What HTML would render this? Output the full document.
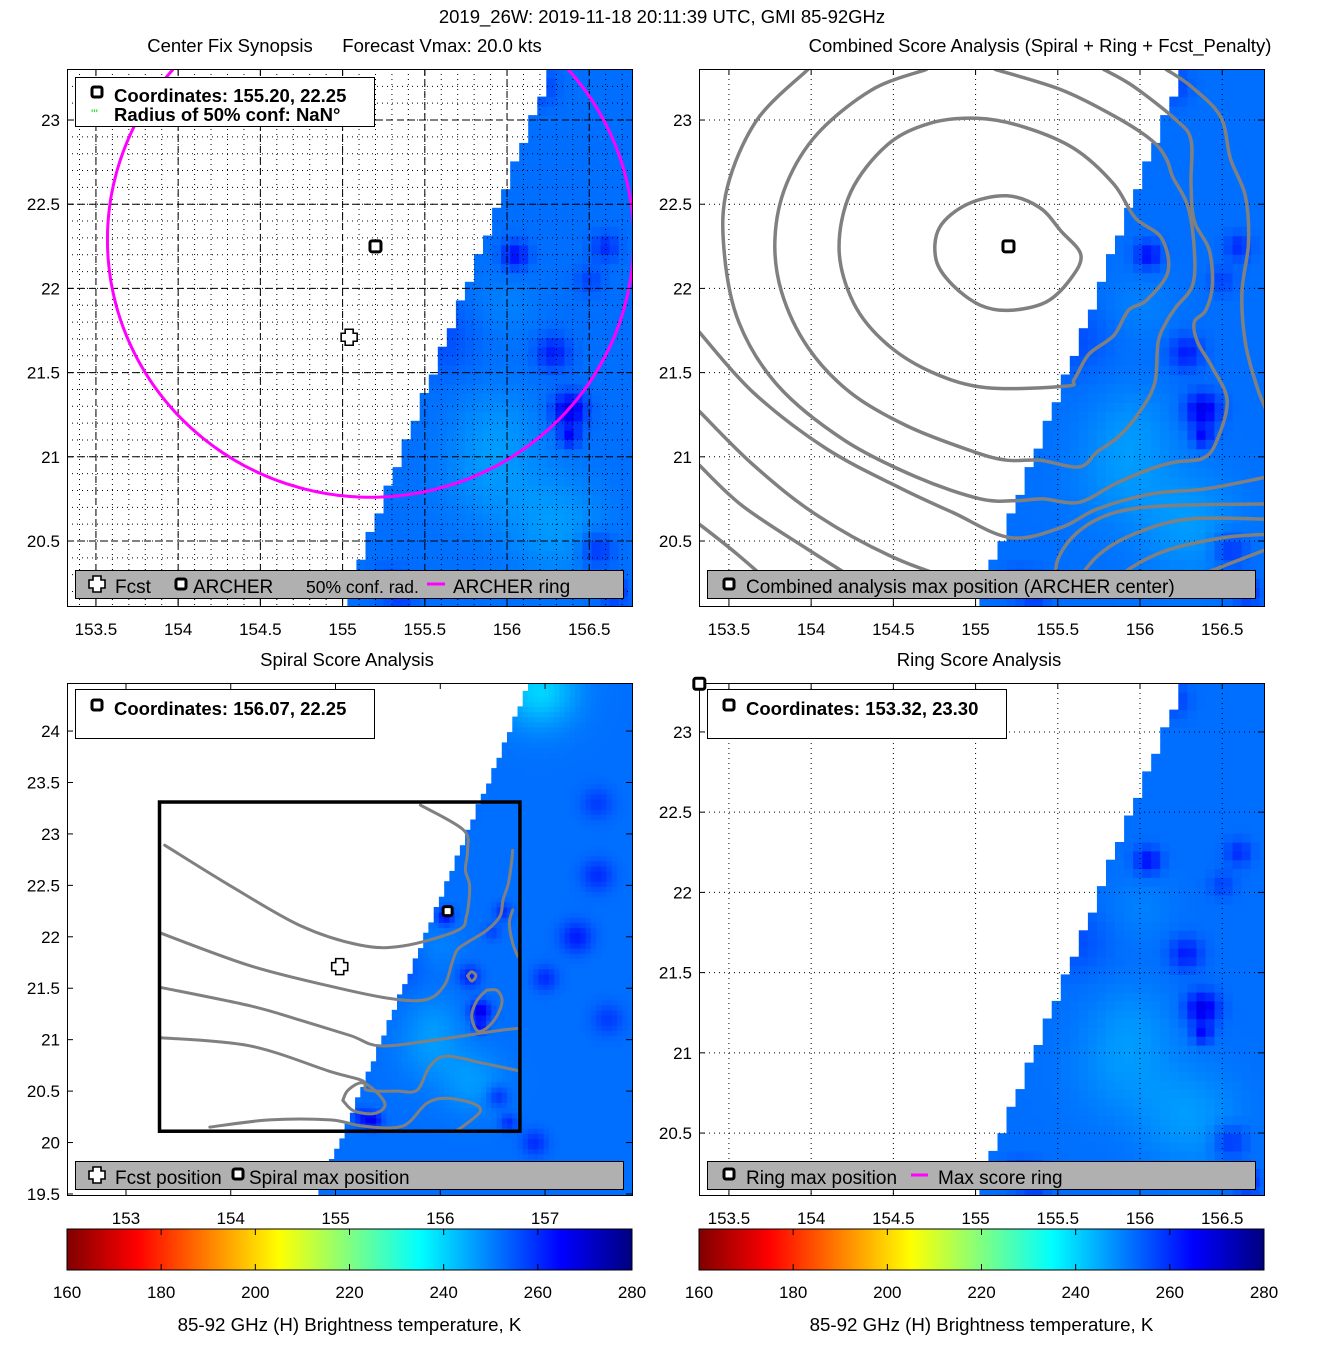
<!DOCTYPE html>
<html><head><meta charset="utf-8"><style>
html,body{margin:0;padding:0;background:#fff}
svg{display:block;font-family:"Liberation Sans",sans-serif}
</style></head><body>
<svg id="fig" width="1317" height="1350" viewBox="0 0 1317 1350" xmlns="http://www.w3.org/2000/svg">
<defs>
<clipPath id="clipTL"><rect x="67" y="69" width="565" height="537"/></clipPath>
<clipPath id="clipTR"><rect x="699" y="69" width="565" height="537"/></clipPath>
<clipPath id="clipBL"><rect x="67" y="683" width="565" height="512"/></clipPath>
<clipPath id="clipBR"><rect x="699" y="683" width="565" height="512"/></clipPath>
<linearGradient id="jetGrad" x1="0" x2="1" y1="0" y2="0"></linearGradient>
</defs>
<text x="662" y="23" text-anchor="middle" font-size="18.5">2019_26W: 2019-11-18 20:11:39 UTC, GMI 85-92GHz</text>
<text x="230" y="52" text-anchor="middle" font-size="18.5">Center Fix Synopsis</text>
<text x="442" y="52" text-anchor="middle" font-size="18.5">Forecast Vmax: 20.0 kts</text>
<text x="1040" y="52" text-anchor="middle" font-size="18.5">Combined Score Analysis (Spiral + Ring + Fcst_Penalty)</text>
<text x="347" y="666" text-anchor="middle" font-size="18.5">Spiral Score Analysis</text>
<text x="979" y="666" text-anchor="middle" font-size="18.5">Ring Score Analysis</text>
</svg>
<script>
// ---------------- data ----------------
const ticksSmallX = [153.5,154,154.5,155,155.5,156,156.5];
const ticksSmallY = [20.5,21,21.5,22,22.5,23];
const ticksBigX = [153,154,155,156,157];
const ticksBigY = [19.5,20,20.5,21,21.5,22,22.5,23,23.5,24];
const cbarTicks = [160,180,200,220,240,260,280];
const jetVals = [160,175,190,205,220,235,250,265,280];
const jetCols = ['#800000','#ff0000','#ff8000','#ffff00','#80ff80','#00ffff','#0080ff','#0000ff','#000080'];
const swathEdgeLon = [155.00,156.27];
const swathEdgeLat = [20.11,23.31];
const blEdgeLon = [154.83,156.85];
const blEdgeLat = [19.49,24.47];
const tbBase = 252;
// cold/warm anomalies: lon, lat, delta K, radius deg
const spotLon = [156.05,156.60,156.28,156.38,156.38,155.36,155.25,156.55,156.65,156.20,156.50,156.30,155.90,156.00,156.95,157.30,157.50,157.00,157.60,156.90,157.50,155.95,155.60];
const spotLat = [22.20,22.25,21.62,21.28,21.12,20.22,20.25,20.45,20.20,23.20,22.05,20.60,20.90,21.90,24.40,22.00,22.60,21.60,21.20,20.00,23.30,21.20,21.70];
const spotAmp = [12,8,10,16,12,14,9,8,8,6,5,-5,-4,-2,-12,10,8,8,6,8,6,-3,4];
const spotRad = [0.08,0.08,0.10,0.10,0.06,0.08,0.08,0.10,0.08,0.10,0.08,0.30,0.30,0.20,0.35,0.15,0.15,0.12,0.15,0.12,0.15,0.25,0.2];
// TL
const archerLon = 155.20, archerLat = 22.25;
const fcstLon = 155.04, fcstLat = 21.71;
const ringCenter = [155.17,22.29];
const ringRadius = [1.60,1.53];
// BL
const spiralLon = 156.07, spiralLat = 22.25;
const boxLon = [153.32,156.76];
const boxLat = [20.11,23.31];
// BR
const ringMaxLon = 153.32, ringMaxLat = 23.30;
// TR contours
const trContours = [
 [[155.64,22.20],[155.52,22.34],[155.39,22.48],[155.19,22.55],[154.95,22.50],[154.78,22.36],[154.76,22.17],[154.86,22.02],[155.03,21.90],[155.21,21.87],[155.43,21.92],[155.58,22.06],[155.64,22.20]],
 [[155.55,21.42],[155.07,21.41],[154.74,21.50],[154.46,21.67],[154.26,21.91],[154.17,22.23],[154.24,22.57],[154.46,22.85],[154.72,22.98],[155.01,23.01],[155.29,22.96],[155.60,22.83],[155.84,22.62],[155.97,22.42],[156.13,22.30],[156.17,22.10],[156.04,21.93],[155.93,21.87],[155.84,21.72],[155.69,21.61],[155.60,21.46],[155.55,21.42]],
 [[154.70,23.30],[154.37,23.18],[154.04,22.92],[153.85,22.62],[153.78,22.30],[153.82,21.98],[153.98,21.65],[154.24,21.38],[154.59,21.18],[154.99,21.03],[155.19,20.98],[155.39,20.98],[155.63,20.94],[155.74,21.03],[155.87,21.12],[156.00,21.27],[156.09,21.44],[156.11,21.68],[156.16,21.80],[156.22,21.89],[156.32,22.02],[156.33,22.23],[156.29,22.49],[156.20,22.66],[156.16,22.77],[156.07,22.88],[155.85,23.02],[155.52,23.18],[155.12,23.30]],
 [[153.98,23.30],[153.67,23.00],[153.49,22.60],[153.47,22.23],[153.56,21.80],[153.80,21.42],[154.20,21.10],[154.64,20.88],[155.03,20.75],[155.25,20.74],[155.41,20.75],[155.63,20.73],[155.85,20.84],[156.07,20.93],[156.22,20.97],[156.38,20.99],[156.46,21.08],[156.53,21.33],[156.44,21.53],[156.35,21.68],[156.33,21.80],[156.40,21.87],[156.44,22.02],[156.42,22.23],[156.33,22.40],[156.31,22.62],[156.31,22.88],[156.22,23.00],[155.96,23.20],[155.78,23.30]],
 [[156.16,23.30],[156.31,23.20],[156.49,23.02],[156.55,22.77],[156.64,22.55],[156.66,22.27],[156.62,21.98],[156.64,21.68],[156.71,21.42],[156.77,21.27]],
 [[153.32,21.74],[153.65,21.38],[154.09,21.05],[154.53,20.82],[154.86,20.67],[155.21,20.52],[155.52,20.58],[155.74,20.69],[156.07,20.78],[156.40,20.81],[156.77,20.88]],
 [[153.32,21.27],[153.65,20.95],[154.04,20.65],[154.53,20.39],[155.06,20.21]],
 [[153.32,20.95],[153.58,20.71],[153.98,20.45],[154.37,20.21]],
 [[153.32,20.60],[153.54,20.43],[153.80,20.21]],
 [[155.49,20.21],[155.50,20.39],[155.63,20.56],[155.85,20.67],[156.18,20.71],[156.77,20.72]],
 [[155.58,20.21],[155.74,20.41],[155.96,20.54],[156.29,20.63],[156.77,20.63]],
 [[155.78,20.21],[155.96,20.35],[156.18,20.45],[156.51,20.52],[156.77,20.54]],
 [[156.17,20.21],[156.40,20.31],[156.77,20.45]]
];
// BL contours
const blContours = [
 [[153.37,22.89],[153.99,22.50],[154.66,22.11],[155.23,21.92],[155.64,21.91],[156.16,22.06],[156.25,22.20],[156.28,22.49],[156.24,22.65],[156.26,22.84],[156.22,23.04],[155.81,23.28]],
 [[153.32,22.04],[154.18,21.72],[154.95,21.52],[155.52,21.40],[155.87,21.39],[156.04,21.53],[156.11,21.74],[156.16,21.87],[156.25,21.94],[156.44,22.06],[156.57,22.20],[156.60,22.36],[156.65,22.52],[156.68,22.72],[156.69,22.84]],
 [[153.32,21.51],[154.18,21.33],[154.66,21.19],[155.14,21.04],[155.42,20.94],[155.90,20.99],[156.57,21.09],[156.76,21.11]],
 [[153.32,21.02],[154.18,20.94],[154.95,20.69],[155.26,20.60],[155.30,20.51],[155.59,20.50],[155.78,20.51],[155.90,20.74],[156.06,20.84],[156.41,20.77],[156.74,20.70]],
 [[155.07,20.41],[155.17,20.31],[155.36,20.28],[155.47,20.35],[155.42,20.46],[155.26,20.58],[155.12,20.51],[155.07,20.41]],
 [[153.80,20.15],[154.37,20.22],[154.95,20.22],[155.26,20.16],[155.64,20.16],[155.87,20.38],[156.06,20.43],[156.31,20.38],[156.38,20.30],[156.22,20.16],[156.16,20.12]],
 [[156.44,21.48],[156.54,21.48],[156.59,21.38],[156.54,21.23],[156.44,21.11],[156.35,21.09],[156.30,21.23],[156.35,21.38],[156.44,21.48]],
 [[156.26,21.62],[156.30,21.66],[156.34,21.62],[156.30,21.57],[156.26,21.62]],
 [[156.69,22.26],[156.66,22.13],[156.69,21.94],[156.74,21.81]]
];

// ---------------- helpers ----------------
const NS='http://www.w3.org/2000/svg';
const svg=document.getElementById('fig');
function el(tag,parent){const e=document.createElementNS(NS,tag);(parent||svg).appendChild(e);return e;}
function hex(c){return [parseInt(c.substr(1,2),16),parseInt(c.substr(3,2),16),parseInt(c.substr(5,2),16)];}
function jet(v){
  if(v<=jetVals[0])return jetCols[0];
  for(let i=1;i<jetVals.length;i++){
    if(v<=jetVals[i]){const t=(v-jetVals[i-1])/(jetVals[i]-jetVals[i-1]);const a=hex(jetCols[i-1]),b=hex(jetCols[i]);
      return 'rgb('+a.map((x,k)=>Math.round(x+(b[k]-x)*t)).join(',')+')';}
  }
  return jetCols[jetCols.length-1];
}
function tb(lon,lat){
  let v=tbBase;
  for(let i=0;i<spotLon.length;i++){const d2=((lon-spotLon[i])**2+(lat-spotLat[i])**2)/(spotRad[i]**2);v+=spotAmp[i]*Math.exp(-d2);}
  return v;
}
function edgeAt(eL,eA,lat){return eL[0]+(lat-eA[0])*(eL[1]-eL[0])/(eA[1]-eA[0]);}

const panels={
 TL:{x0:67,x1:632,y0:69,y1:606,lon0:153.324,lon1:156.76,lat0:20.114,lat1:23.303,clip:'clipTL',xt:ticksSmallX,yt:ticksSmallY},
 TR:{x0:699,x1:1264,y0:69,y1:606,lon0:153.318,lon1:156.754,lat0:20.114,lat1:23.303,clip:'clipTR',xt:ticksSmallX,yt:ticksSmallY},
 BL:{x0:67,x1:632,y0:683,y1:1195,lon0:152.437,lon1:157.83,lat0:19.49,lat1:24.467,clip:'clipBL',xt:ticksBigX,yt:ticksBigY},
 BR:{x0:699,x1:1264,y0:683,y1:1195,lon0:153.318,lon1:156.754,lat0:20.114,lat1:23.305,clip:'clipBR',xt:ticksSmallX,yt:ticksSmallY}
};
function sx(p,lon){return p.x0+(lon-p.lon0)/(p.lon1-p.lon0)*(p.x1-p.x0);}
function sy(p,lat){return p.y1-(lat-p.lat0)/(p.lat1-p.lat0)*(p.y1-p.y0);}

function drawSwath(p,name,cell,eL,eA){
  const g=el('g');g.setAttribute('clip-path','url(#'+p.clip+')');
  
  
  for(let lat=p.lat0-cell;lat<p.lat1+cell;lat+=cell){
    for(let lon=p.lon0-cell;lon<p.lon1+cell;lon+=cell){
      const cl=lon+cell/2,ca=lat+cell/2;
      if(cl<edgeAt(eL,eA,ca))continue;
      const r=el('rect',g);
      const xa=sx(p,lon),xb=sx(p,lon+cell),ya=sy(p,lat+cell),yb=sy(p,lat);
      r.setAttribute('x',xa.toFixed(1));r.setAttribute('y',ya.toFixed(1));
      r.setAttribute('width',(xb-xa+0.6).toFixed(1));r.setAttribute('height',(yb-ya+0.6).toFixed(1));
      r.setAttribute('fill',jet(tb(cl,ca)));
    }
  }
}
function drawGrid(p,name,minor){
  const g=el('g');g.setAttribute('clip-path','url(#'+p.clip+')');
  
  
  if(minor){
    for(let lon=Math.ceil(p.lon0*10)/10;lon<p.lon1;lon+=0.1){const l=el('line',g);const x=sx(p,lon);
      l.setAttribute('x1',x);l.setAttribute('x2',x);l.setAttribute('y1',p.y0);l.setAttribute('y2',p.y1);
      l.setAttribute('stroke','#000');l.setAttribute('stroke-width','1');l.setAttribute('stroke-dasharray','1 4');}
    for(let lat=Math.ceil(p.lat0*10)/10;lat<p.lat1;lat+=0.1){const l=el('line',g);const y=sy(p,lat);
      l.setAttribute('y1',y);l.setAttribute('y2',y);l.setAttribute('x1',p.x0);l.setAttribute('x2',p.x1);
      l.setAttribute('stroke','#000');l.setAttribute('stroke-width','1');l.setAttribute('stroke-dasharray','1 4');}
  }
  p.xt.forEach(v=>{const l=el('line',g);const x=sx(p,v);
    l.setAttribute('x1',x);l.setAttribute('x2',x);l.setAttribute('y1',p.y0);l.setAttribute('y2',p.y1);
    l.setAttribute('stroke','#000');l.setAttribute('stroke-width','1');l.setAttribute('stroke-dasharray',minor?'7 4':'1 4');});
  p.yt.forEach(v=>{const l=el('line',g);const y=sy(p,v);
    l.setAttribute('y1',y);l.setAttribute('y2',y);l.setAttribute('x1',p.x0);l.setAttribute('x2',p.x1);
    l.setAttribute('stroke','#000');l.setAttribute('stroke-width','1');l.setAttribute('stroke-dasharray',minor?'7 4':'1 4');});
}
function drawAxes(p,pre){
  const b=el('rect');b.setAttribute('x',p.x0+0.5);b.setAttribute('y',p.y0+0.5);b.setAttribute('width',p.x1-p.x0);b.setAttribute('height',p.y1-p.y0);
  b.setAttribute('fill','none');b.setAttribute('stroke','#000');
  
  
  p.xt.forEach(v=>{const x=sx(p,v);
    [[p.y1,p.y1-6],[p.y0,p.y0+6]].forEach(yy=>{const l=el('line');l.setAttribute('x1',x);l.setAttribute('x2',x);l.setAttribute('y1',yy[0]);l.setAttribute('y2',yy[1]);l.setAttribute('stroke','#000');});
    const t=el('text');t.setAttribute('x',x);t.setAttribute('y',p.y1+29);t.setAttribute('text-anchor','middle');t.setAttribute('font-size','17');t.textContent=String(v);
    
    
  });
  p.yt.forEach(v=>{const y=sy(p,v);
    [[p.x0,p.x0+6],[p.x1,p.x1-6]].forEach(xx=>{const l=el('line');l.setAttribute('y1',y);l.setAttribute('y2',y);l.setAttribute('x1',xx[0]);l.setAttribute('x2',xx[1]);l.setAttribute('stroke','#000');});
    const t=el('text');t.setAttribute('x',p.x0-7);t.setAttribute('y',y+6);t.setAttribute('text-anchor','end');t.setAttribute('font-size','17');t.textContent=String(v);
    
    
  });
}
function drawLine(p,pts,name,color,w,closed){
  const g=el('path');
  const P=pts.map(q=>[sx(p,q[0]),sy(p,q[1])]);
  let d='M'+P[0][0].toFixed(1)+','+P[0][1].toFixed(1);
  for(let i=0;i<P.length-1;i++){
    const p0=P[i>0?i-1:(closed?P.length-2:0)],p1=P[i],p2=P[i+1],p3=P[i+2<P.length?i+2:(closed?1:P.length-1)];
    const c1=[p1[0]+(p2[0]-p0[0])/6,p1[1]+(p2[1]-p0[1])/6],c2=[p2[0]-(p3[0]-p1[0])/6,p2[1]-(p3[1]-p1[1])/6];
    d+=' C'+c1[0].toFixed(1)+','+c1[1].toFixed(1)+' '+c2[0].toFixed(1)+','+c2[1].toFixed(1)+' '+p2[0].toFixed(1)+','+p2[1].toFixed(1);
  }
  g.setAttribute('d',d);
  g.setAttribute('fill','none');g.setAttribute('stroke',color);g.setAttribute('stroke-width',w);g.setAttribute('stroke-linejoin','round');g.setAttribute('stroke-linecap','round');
  g.setAttribute('clip-path','url(#'+p.clip+')');
  
  
  return g;
}
function squareMarker(x,y,name,s){
  s=s||11;const r=el('rect');r.setAttribute('x',x-s/2);r.setAttribute('y',y-s/2);r.setAttribute('width',s);r.setAttribute('height',s);r.setAttribute('rx',2);
  r.setAttribute('fill','#fff');r.setAttribute('stroke','#000');r.setAttribute('stroke-width','3');
  
  
}
function crossMarker(x,y,name){
  const a=4,b=8;const pth=el('path');
  pth.setAttribute('d',`M${x-a},${y-b}H${x+a}V${y-a}H${x+b}V${y+a}H${x+a}V${y+b}H${x-a}V${y+a}H${x-b}V${y-a}H${x-a}Z`);
  pth.setAttribute('fill','#fff');pth.setAttribute('stroke','#000');pth.setAttribute('stroke-width','1.6');
  
  
}
function text(x,y,s,name,bold,size){const t=el('text');t.setAttribute('x',x);t.setAttribute('y',y);t.setAttribute('font-size',size||19);if(bold)t.setAttribute('font-weight','bold');t.textContent=s;
  
  return t;}
function box(x,y,w,h,fill,name){const r=el('rect');r.setAttribute('x',x+0.5);r.setAttribute('y',y+0.5);r.setAttribute('width',w);r.setAttribute('height',h);r.setAttribute('fill',fill);r.setAttribute('stroke','#000');
  
  }

// ---------------- TL ----------------
let P=panels.TL;
drawSwath(P,'tl-brightness-field',0.055,swathEdgeLon,swathEdgeLat);
drawGrid(P,'tl-grid',true);
const ringPts=[];for(let k=0;k<=180;k++){const a=k/180*2*Math.PI;ringPts.push([ringCenter[0]+ringRadius[0]*Math.cos(a),ringCenter[1]+ringRadius[1]*Math.sin(a)]);}
drawLine(P,ringPts,'archer-ring','#ff00ff',3,true);
squareMarker(sx(P,archerLon),sy(P,archerLat),'tl-archer-marker');
crossMarker(sx(P,fcstLon),sy(P,fcstLat),'tl-fcst-marker');
drawAxes(P,'tl');
box(75,77,299,49,'#fff','tl-info-legend');
squareMarker(97,92,'tl-info-legend-square',10);
text(114,102,'Coordinates: 155.20, 22.25','tl-coordinates-text',true,18.5);
text(91,118,"'''",'tl-conf-radius-glyph',false,12).setAttribute('fill','#00e000');
text(114,121,'Radius of 50% conf: NaN°','tl-conf-radius-text',true,18.5);
box(75,570,548,28,'#b0b0b0','tl-bottom-legend');
crossMarker(97,584,'legend-fcst-marker');
text(115,593,'Fcst','legend-fcst-label');
squareMarker(181,584,'legend-archer-marker',10);
text(193,593,'ARCHER','legend-archer-label');
text(306,593,'50% conf. rad.','legend-conf-rad-label',false,17.5);
{const l=el('line');l.setAttribute('x1',427);l.setAttribute('x2',445);l.setAttribute('y1',584);l.setAttribute('y2',584);l.setAttribute('stroke','#ff00ff');l.setAttribute('stroke-width',3);
 
 }
text(453,593,'ARCHER ring','legend-ring-label');

// ---------------- TR ----------------
P=panels.TR;
drawSwath(P,'tr-brightness-field',0.055,swathEdgeLon,swathEdgeLat);
drawGrid(P,'tr-grid',false);
trContours.forEach((c,i)=>drawLine(P,c,'tr-score-contour-'+i,'#808080',3.5,i<2));
squareMarker(sx(P,archerLon),sy(P,archerLat),'tr-archer-marker');
drawAxes(P,'tr');
box(707,570,548,28,'#b0b0b0','tr-bottom-legend');
squareMarker(729,584,'tr-legend-marker',10);
text(746,593,'Combined analysis max position (ARCHER center)','tr-legend-label');

// ---------------- BL ----------------
P=panels.BL;
drawSwath(P,'bl-brightness-field',0.05,blEdgeLon,blEdgeLat);
blContours.forEach((c,i)=>drawLine(P,c,'bl-spiral-contour-'+i,'#808080',3,false));
{const r=el('rect');r.setAttribute('x',sx(P,boxLon[0]));r.setAttribute('y',sy(P,boxLat[1]));r.setAttribute('width',sx(P,boxLon[1])-sx(P,boxLon[0]));r.setAttribute('height',sy(P,boxLat[0])-sy(P,boxLat[1]));
 r.setAttribute('fill','none');r.setAttribute('stroke','#000');r.setAttribute('stroke-width',3.5);
 
 }
squareMarker(sx(P,spiralLon),sy(P,spiralLat),'bl-spiral-max-marker',9);
crossMarker(sx(P,fcstLon),sy(P,fcstLat),'bl-fcst-marker');
drawAxes(P,'bl');
box(75,689,299,49,'#fff','bl-info-legend');
squareMarker(97,705,'bl-info-legend-square',10);
text(114,715,'Coordinates: 156.07, 22.25','bl-coordinates-text',true,18.5);
box(75,1161,548,28,'#b0b0b0','bl-bottom-legend');
crossMarker(97,1175,'bl-legend-fcst-marker');
text(115,1184,'Fcst position','bl-legend-fcst-label');
squareMarker(238,1174,'bl-legend-spiral-marker',10);
text(249,1184,'Spiral max position','bl-legend-spiral-label');

// ---------------- BR ----------------
P=panels.BR;
drawSwath(P,'br-brightness-field',0.055,swathEdgeLon,swathEdgeLat);
drawGrid(P,'br-grid',false);
drawAxes(P,'br');
box(707,689,299,49,'#fff','br-info-legend');
squareMarker(729,705,'br-info-legend-square',10);
text(746,715,'Coordinates: 153.32, 23.30','br-coordinates-text',true,18.5);
squareMarker(sx(P,ringMaxLon),sy(P,ringMaxLat),'br-ring-max-marker');
box(707,1161,548,28,'#b0b0b0','br-bottom-legend');
squareMarker(729,1174,'br-legend-ring-marker',10);
text(746,1184,'Ring max position','br-legend-ring-label');
{const l=el('line');l.setAttribute('x1',911);l.setAttribute('x2',928);l.setAttribute('y1',1175);l.setAttribute('y2',1175);l.setAttribute('stroke','#ff00ff');l.setAttribute('stroke-width',3);
 
 }
text(938,1184,'Max score ring','br-legend-score-ring-label');

// ---------------- colorbars ----------------
const grad=document.getElementById('jetGrad');
jetVals.forEach((v,i)=>{const s=document.createElementNS(NS,'stop');s.setAttribute('offset',((v-160)/120*100)+'%');s.setAttribute('stop-color',jetCols[i]);grad.appendChild(s);});
[[67,632,'bl'],[699,1264,'br']].forEach(cb=>{
  const r=el('rect');r.setAttribute('x',cb[0]);r.setAttribute('y',1229);r.setAttribute('width',cb[1]-cb[0]);r.setAttribute('height',41);r.setAttribute('fill','url(#jetGrad)');r.setAttribute('stroke','#000');
  
  
  cbarTicks.forEach(v=>{const x=cb[0]+(v-160)/120*(cb[1]-cb[0]);
    [[1229,1235],[1270,1264]].forEach(yy=>{const l=el('line');l.setAttribute('x1',x);l.setAttribute('x2',x);l.setAttribute('y1',yy[0]);l.setAttribute('y2',yy[1]);l.setAttribute('stroke','#000');});
    const t=el('text');t.setAttribute('x',x);t.setAttribute('y',1298);t.setAttribute('text-anchor','middle');t.setAttribute('font-size','17');t.textContent=String(v);
    
    
  });
  const t=el('text');t.setAttribute('x',(cb[0]+cb[1])/2);t.setAttribute('y',1331);t.setAttribute('text-anchor','middle');t.setAttribute('font-size','18.7');
  t.textContent='85-92 GHz (H) Brightness temperature, K';
  
  
});
</script>
</body></html>
